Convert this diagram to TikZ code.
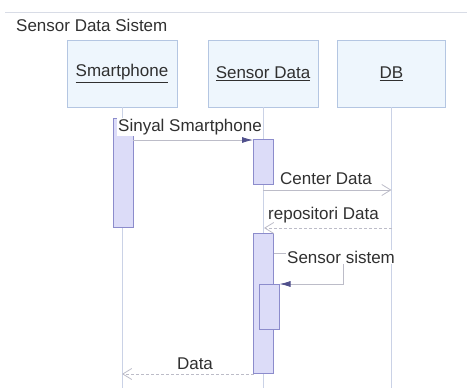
\documentclass[tikz,border=0pt]{standalone}
\usepackage{fontspec}
\setmainfont{Liberation Sans}
\usetikzlibrary{arrows.meta}
\definecolor{boxfill}{HTML}{EEF6FD}
\definecolor{boxdraw}{HTML}{B4C6E2}
\definecolor{actfill}{HTML}{DCDCF8}
\definecolor{actdraw}{HTML}{8C8CCC}
\definecolor{lifec}{HTML}{CAD2E6}
\definecolor{msgc}{HTML}{BCBCC8}
\definecolor{headc}{HTML}{50508C}
\definecolor{textc}{HTML}{303030}
\definecolor{framec}{HTML}{D8DCE6}
\begin{document}
\begin{tikzpicture}[x=1pt,y=-1pt,
  lifebox/.style={draw=boxdraw,fill=boxfill,minimum width=110pt,minimum height=67pt,inner sep=0pt,line width=0.8pt,
    font=\fontsize{17}{19}\selectfont, text=textc},
  act/.style={draw=actdraw,fill=actfill,minimum width=20pt,inner sep=0pt,line width=0.8pt},
  lbl/.style={font=\fontsize{17}{19}\selectfont, text=textc, inner sep=1pt},
  lifeline/.style={draw=lifec, line width=0.8pt},
  sync/.style={draw=msgc, line width=0.8pt, -{Latex[length=11pt,width=6pt,color=headc]}},
  async/.style={draw=msgc, line width=0.8pt, -{Straight Barb[length=9pt,width=11pt]}},
  ret/.style={draw=msgc, line width=0.8pt, dashed, dash pattern=on 3pt off 2pt, -{Straight Barb[length=9pt,width=11pt]}}
]
\useasboundingbox (0,0) rectangle (467,388);
% frame
\coordinate (f1) at (5,12);
\coordinate (f2) at (467,12);
\draw[framec, line width=0.8pt] (f1) -- (f2);
\node[lbl, anchor=west] (title) at (15,25) {Sensor Data Sistem};

% lifeline boxes
\node[lifebox] (sp) at (122,73.5) {\underline{Smartphone}};
\node[lifebox] (sd) at (263,73.5) {\underline{Sensor Data}};
\node[lifebox, minimum width=108pt] (db) at (391.5,73.5) {\underline{DB}};

% lifelines
\coordinate (spe) at (122,388);
\coordinate (sde) at (263,388);
\coordinate (dbe) at (391.5,388);
\draw[lifeline] (sp.south) -- (spe);
\draw[lifeline] (sd.south) -- (sde);
\draw[lifeline] (db.south) -- (dbe);

% activations
\node[act, minimum height=109pt] (a1) at (123,172.5) {};
\node[act, minimum height=45pt] (s1) at (263.5,161.5) {};
\node[act, minimum height=140pt] (s2) at (263.5,303) {};
\node[act, minimum height=45pt] (s3) at (269.5,306.5) {};

% message 1
\coordinate (m1a) at (133,140);
\coordinate (m1b) at (253,140);
\draw[sync] (m1a) -- (m1b);
\node[lbl, anchor=west, fill=white] (l1) at (117,127) {Sinyal Smartphone};

% message 2
\coordinate (m2a) at (263,190);
\coordinate (m2b) at (391.5,190);
\draw[async] (m2a) -- (m2b);
\node[lbl, anchor=west] (l2) at (279,179) {Center Data};

% message 3
\coordinate (m3a) at (391.5,228);
\coordinate (m3b) at (264,228);
\draw[ret] (m3a) -- (m3b);
\node[lbl, anchor=west] (l3) at (267,215) {repositori Data};

% message 4 (self)
\coordinate (m4a) at (273.5,253);
\coordinate (m4c) at (343,253);
\coordinate (m4d) at (343,284);
\coordinate (m4b) at (279.5,284);
\draw[sync] (m4a) -- (m4c) -- (m4d) -- (m4b);
\node[lbl, anchor=west, fill=white] (l4) at (286,257) {Sensor sistem};

% message 5
\coordinate (m5a) at (253.5,374);
\coordinate (m5b) at (122,374);
\draw[ret] (m5a) -- (m5b);
\node[lbl] (l5) at (195,364) {Data};
\end{tikzpicture}
\end{document}
